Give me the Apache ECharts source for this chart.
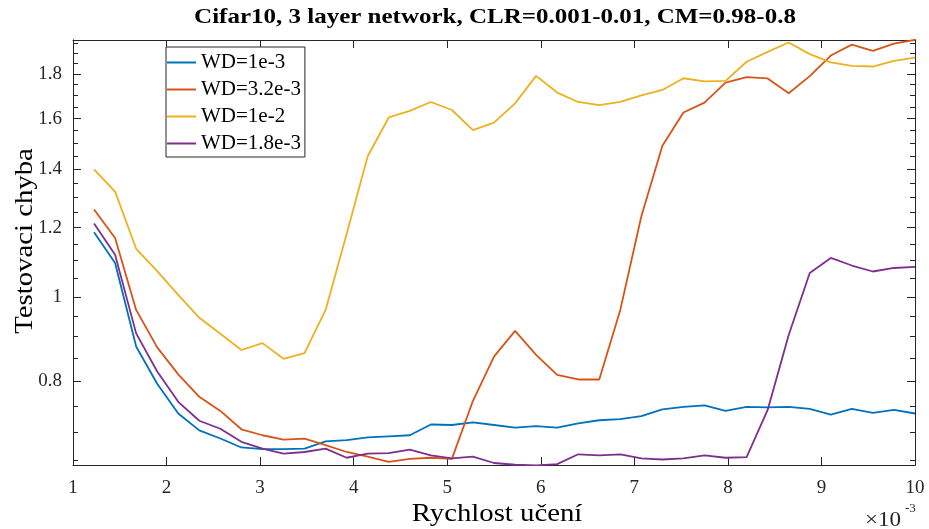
<!DOCTYPE html>
<html><head><meta charset="utf-8">
<script src="https://cdn.jsdelivr.net/npm/echarts@6/dist/echarts.min.js"></script>
<style>html,body{margin:0;padding:0;background:#fff}#c{width:929px;height:529px}</style>
</head><body><div id="c"></div>
<script>
// x: learning rate (x 1e-3)
const learningRate = [1.225,1.45,1.675,1.9,2.125,2.35,2.575,2.8,3.025,3.25,3.475,3.7,3.925,4.15,4.375,4.6,4.825,5.05,5.275,5.5,5.725,5.95,6.175,6.4,6.625,6.85,7.075,7.3,7.525,7.75,7.975,8.2,8.425,8.65,8.875,9.1,9.325,9.55,9.775,10.0];
const wd1e3 = [1.186,1.093,0.877,0.795,0.735,0.703,0.688,0.672,0.669,0.669,0.670,0.683,0.685,0.690,0.692,0.694,0.714,0.713,0.718,0.713,0.708,0.711,0.708,0.716,0.722,0.724,0.730,0.743,0.748,0.751,0.740,0.748,0.747,0.748,0.744,0.733,0.744,0.736,0.742,0.735];
const wd32e3 = [1.259,1.168,0.966,0.875,0.815,0.768,0.740,0.705,0.694,0.686,0.688,0.676,0.664,0.656,0.647,0.652,0.654,0.652,0.760,0.854,0.914,0.858,0.814,0.804,0.804,0.966,1.237,1.49,1.626,1.669,1.760,1.785,1.779,1.711,1.79,1.89,1.945,1.913,1.95,1.97];
const wd1e2 = [1.400,1.32,1.135,1.07,1.005,0.946,0.907,0.869,0.885,0.849,0.862,0.966,1.18,1.449,1.605,1.633,1.672,1.637,1.552,1.583,1.666,1.791,1.714,1.672,1.658,1.672,1.701,1.726,1.780,1.765,1.768,1.859,1.908,1.956,1.897,1.856,1.839,1.836,1.864,1.880];
const wd18e3 = [1.213,1.117,0.908,0.821,0.758,0.721,0.706,0.682,0.670,0.661,0.664,0.670,0.654,0.661,0.662,0.668,0.658,0.653,0.656,0.645,0.642,0.641,0.643,0.660,0.658,0.660,0.653,0.651,0.653,0.658,0.654,0.655,0.742,0.904,1.065,1.108,1.086,1.069,1.079,1.082];
const seriesNames = ['WD=1e-3','WD=3.2e-3','WD=1e-2','WD=1.8e-3'];
const seriesColors = ['#0072BD','#D95319','#EDB120','#7E2F8E'];
const yMajorTicks = [0.8,1,1.2,1.4,1.6,1.8];
const yMinorTicks = [0.65,0.7,0.75,0.85,0.9,0.95,1.05,1.1,1.15,1.25,1.3,1.35,1.45,1.5,1.55,1.65,1.7,1.75,1.85,1.9,1.95];
const titleText = 'Cifar10, 3 layer network, CLR=0.001-0.01, CM=0.98-0.8';
const xName = 'Rychlost učení';
const yName = 'Testovaci chyba';

const FONT = "'Liberation Serif','Times New Roman',serif";
const AX = '#262626';
const yMin = 0.6416, yMax = 1.969;

const chart = echarts.init(document.getElementById('c'), null, {renderer:'canvas'});
const allData = [wd1e3, wd32e3, wd1e2, wd18e3];

function yAx(pos, ticks, len, labels){
  return {
    type:'log', position:pos, min:yMin, max:yMax,
    axisLine:{show:true, lineStyle:{color:AX, width:1}},
    axisTick:{show:true, inside:true, length:len, customValues:ticks, lineStyle:{color:AX, width:1}},
    axisLabel:labels ? {show:true, customValues:yMajorTicks, fontFamily:FONT, fontSize:19, color:AX, margin:11,
      formatter:function(v){ return String(Math.round(v*100)/100); }} : {show:false},
    splitLine:{show:false}, minorTick:{show:false}
  };
}

const option = {
  animation:false,
  backgroundColor:'#fff',
  grid:{left:73, right:14, top:40, bottom:64, containLabel:false},
  legend:{orient:'vertical', left:166, top:47, padding:[5,4,3,1], itemGap:6, itemWidth:29, itemHeight:2, icon:'rect',
    borderColor:AX, borderWidth:1, backgroundColor:'#fff',
    textStyle:{fontFamily:FONT, fontSize:21, color:'#000', lineHeight:20}, data:seriesNames},
  xAxis:[
    {type:'value', position:'bottom', min:1, max:10, interval:1,
     axisLine:{show:true, lineStyle:{color:AX}}, axisTick:{show:true, inside:true, length:8, lineStyle:{color:AX}},
     axisLabel:{fontFamily:FONT, fontSize:19, color:AX, margin:14}, splitLine:{show:false}},
    {type:'value', position:'top', min:1, max:10, interval:1,
     axisLine:{show:true, lineStyle:{color:AX}}, axisTick:{show:true, inside:true, length:8, lineStyle:{color:AX}},
     axisLabel:{show:false}, splitLine:{show:false}}
  ],
  yAxis:[
    yAx('left', yMajorTicks, 8, true),
    yAx('left', yMinorTicks, 5, false),
    yAx('right', yMajorTicks, 8, false),
    yAx('right', yMinorTicks, 5, false)
  ],
  graphic:[
    {type:'text', x:495, y:18, scaleX:1.19, style:{text:titleText, font:"bold 21px 'Liberation Serif', serif", fill:'#000', align:'center', verticalAlign:'middle'}},
    {type:'text', x:497, y:514, scaleX:1.15, style:{text:xName, font:"25px 'Liberation Serif', serif", fill:'#000', align:'center', verticalAlign:'middle'}},
    {type:'text', x:25, y:241, rotation:Math.PI/2, scaleX:1.15, style:{text:yName, font:"25px 'Liberation Serif', serif", fill:'#000', align:'center', verticalAlign:'middle'}},
    {type:'text', x:865, y:511, scaleX:1.15, style:{text:'×10', font:"20px 'Liberation Serif', serif", fill:AX}},
    {type:'text', x:905, y:502, style:{text:'-3', font:"13px 'Liberation Serif', serif", fill:AX}}
  ],
  series: allData.map(function(arr, k){
    return {
      name:seriesNames[k], type:'line', xAxisIndex:0, yAxisIndex:0,
      data: arr.map(function(v, i){ return [learningRate[i], v]; }),
      showSymbol:false, symbol:'none', clip:true,
      lineStyle:{color:seriesColors[k], width:1.8}, itemStyle:{color:seriesColors[k]}
    };
  })
};
chart.setOption(option);
</script></body></html>
